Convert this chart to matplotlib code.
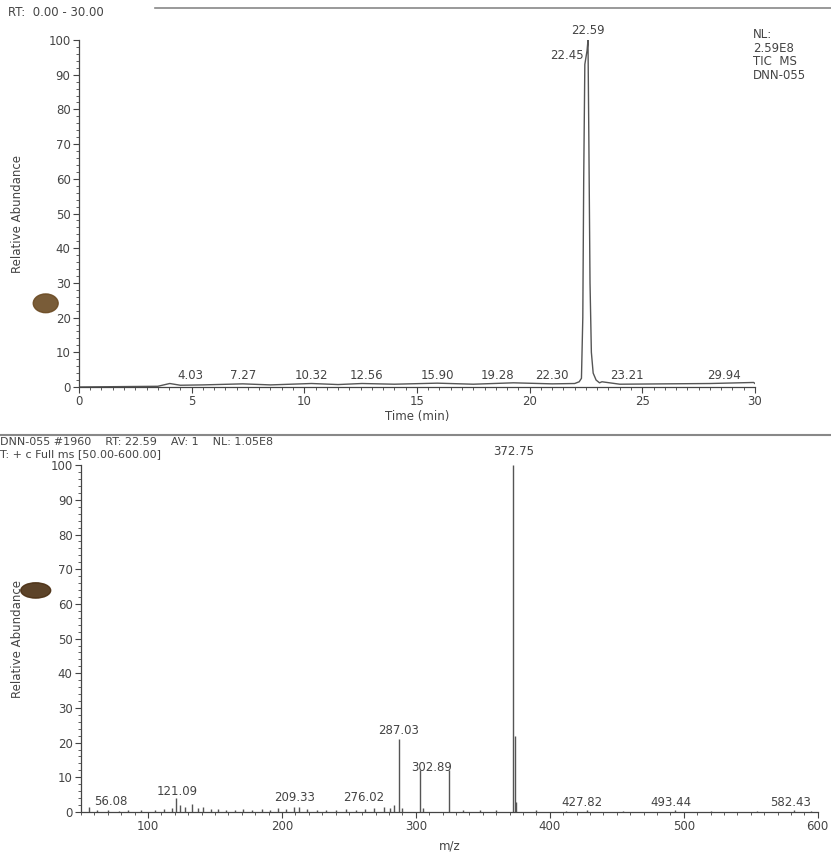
import matplotlib
matplotlib.use("Agg")
import matplotlib.pyplot as plt
from matplotlib.patches import Ellipse
from matplotlib.ticker import MultipleLocator

plt.rcParams['font.family'] = ['DejaVu Sans']

# Cromatograma (TIC)
tiempo = [0, 3.5, 4.03, 4.5, 5.5, 7.27, 8.5, 10.32, 11.5, 12.56, 14.0, 15.90,
          17.5, 19.28, 21.0, 22.0, 22.20, 22.30, 22.36, 22.40, 22.45, 22.50,
          22.55, 22.59, 22.63, 22.68, 22.74, 22.82, 22.95, 23.10, 23.21, 24.0,
          26.0, 28.0, 29.94, 30.0]
abund_tic = [0, 0.2, 1.0, 0.5, 0.6, 0.9, 0.6, 1.0, 0.7, 1.0, 0.8, 1.1,
             0.8, 1.2, 0.9, 1.0, 1.5, 2.5, 20, 60, 93, 95,
             97, 100, 70, 30, 10, 4, 2, 1.2, 1.5, 0.8,
             0.9, 1.0, 1.3, 1.0]
etiq_tic = [4.03, 7.27, 10.32, 12.56, 15.90, 19.28, 22.30, 23.21, 29.94]
desp_tic = [0.9, 0, 0, 0.2, 0, -0.7, -1.3, 1.1, -1.3]

# Espectro de masas
mz = [56.08, 62, 70, 78, 85, 95, 105, 112, 118, 121.09, 124, 128, 133, 137,
      141, 147, 152, 158, 165, 171, 178, 185, 191, 197, 203, 209.33, 213,
      219, 226, 233, 240, 248, 255, 262, 269, 276.02, 281, 284, 287.03, 290,
      302.89, 305, 324.9, 335, 348, 360, 372.75, 373.8, 374.8, 390, 412,
      427.82, 455, 493.44, 520, 555, 582.43, 595]
abund_ms = [1.5, 0.5, 0.6, 0.4, 0.7, 0.5, 0.6, 0.8, 1.2, 4.0, 2.0, 1.5, 2.2, 1.0,
            1.3, 0.8, 0.9, 0.7, 0.6, 0.8, 0.5, 0.9, 0.6, 1.0, 0.8, 1.5, 1.3,
            0.9, 0.6, 0.7, 0.5, 0.8, 0.6, 0.9, 1.2, 1.5, 1.0, 2.0, 21, 1.0,
            12, 1.0, 12, 0.6, 0.7, 0.5, 100, 22, 3.0, 0.5, 0.4,
            0.5, 0.4, 0.5, 0.3, 0.4, 0.5, 0.3]
etiq_ms = ['56.08', '121.09', '209.33', '276.02', '287.03', '302.89', '372.75',
           '427.82', '493.44', '582.43']
desp_ms = [16, 1, 0, -15, 0, 9, 0, -4, -3, -3]
alto_ms = [2.9, 5.8, 4.3, 4.3, 23.6, 12.7, 104, 2.6, 2.6, 2.6]

gris = '#444444'
fs = 8.5
fig = plt.figure(figsize=(8.31, 8.52), dpi=100)


def preparar(ax, xlab):
    for s in ['top', 'right']:
        ax.spines[s].set_visible(False)
    for s in ['left', 'bottom']:
        ax.spines[s].set_color(gris)
        ax.spines[s].set_linewidth(0.9)
    ax.set_ylim(0, 100)
    ax.yaxis.set_major_locator(MultipleLocator(10))
    ax.yaxis.set_minor_locator(MultipleLocator(2))
    ax.tick_params(colors=gris, labelsize=fs, length=4, width=0.8, pad=2)
    ax.tick_params(which='minor', colors=gris, length=2, width=0.6)
    ax.set_ylabel('Relative Abundance', fontsize=fs, color=gris)
    ax.yaxis.set_label_coords(xlab, 0.5)


# Panel superior
ax1 = fig.add_axes([0.095, 0.5458, 0.8135, 0.4072])
ax1.plot(tiempo, abund_tic, color='#555555', lw=1.0)
preparar(ax1, -0.082)
ax1.set_xlim(0, 30)
ax1.xaxis.set_major_locator(MultipleLocator(5))
ax1.xaxis.set_minor_locator(MultipleLocator(0.5))
ax1.set_xlabel('Time (min)', fontsize=fs, color=gris, labelpad=1)
for v, d in zip(etiq_tic, desp_tic):
    ax1.text(v + d, 1.5, f'{v:.2f}', ha='center', va='bottom', fontsize=fs, color=gris)
ax1.text(22.59, 101, '22.59', ha='center', va='bottom', fontsize=fs, color=gris,
         clip_on=False)
ax1.text(22.42, 95.5, '22.45', ha='right', va='center', fontsize=fs, color=gris)

# Panel inferior
ax2 = fig.add_axes([0.0975, 0.047, 0.8865, 0.407])
ax2.vlines(mz, 0, abund_ms, color='#555555', lw=1.0)
preparar(ax2, -0.077)
ax2.set_xlim(50, 600)
ax2.xaxis.set_major_locator(MultipleLocator(100))
ax2.xaxis.set_minor_locator(MultipleLocator(10))
ax2.set_xlabel('m/z', fontsize=fs, color=gris)
ax2.xaxis.set_label_coords(0.5, -0.078)
for e, d, h in zip(etiq_ms, desp_ms, alto_ms):
    ax2.text(float(e) + d, h, e, ha='center', va='center', fontsize=fs,
             color=gris, clip_on=False)

# Cabeceras y separadores
fig.text(0.010, 0.985, 'RT:  0.00 - 30.00', fontsize=fs, color=gris, va='center')
fig.add_artist(plt.Line2D([0.187, 1.0], [0.991, 0.991], color='#888888', lw=1.2))
fig.text(0.906, 0.967, 'NL:\n2.59E8\nTIC  MS\nDNN-055', fontsize=fs, color=gris,
         va='top', linespacing=1.05)
fig.add_artist(plt.Line2D([0.0, 1.0], [0.490, 0.490], color='#888888', lw=1.5))
fig.text(0.0, 0.4815, 'DNN-055 #1960    RT: 22.59    AV: 1    NL: 1.05E8',
         fontsize=8, color=gris, va='center')
fig.text(0.0, 0.4665, 'T: + c Full ms [50.00-600.00]', fontsize=8, color=gris,
         va='center')

# Manchas del escaneo original
fig.add_artist(Ellipse((0.055, 0.644), 0.030, 0.022, color='#6b4a22', alpha=0.9))
fig.add_artist(Ellipse((0.043, 0.307), 0.036, 0.018, color='#4a2e12', alpha=0.9))

fig.savefig('out.png', dpi=100)
